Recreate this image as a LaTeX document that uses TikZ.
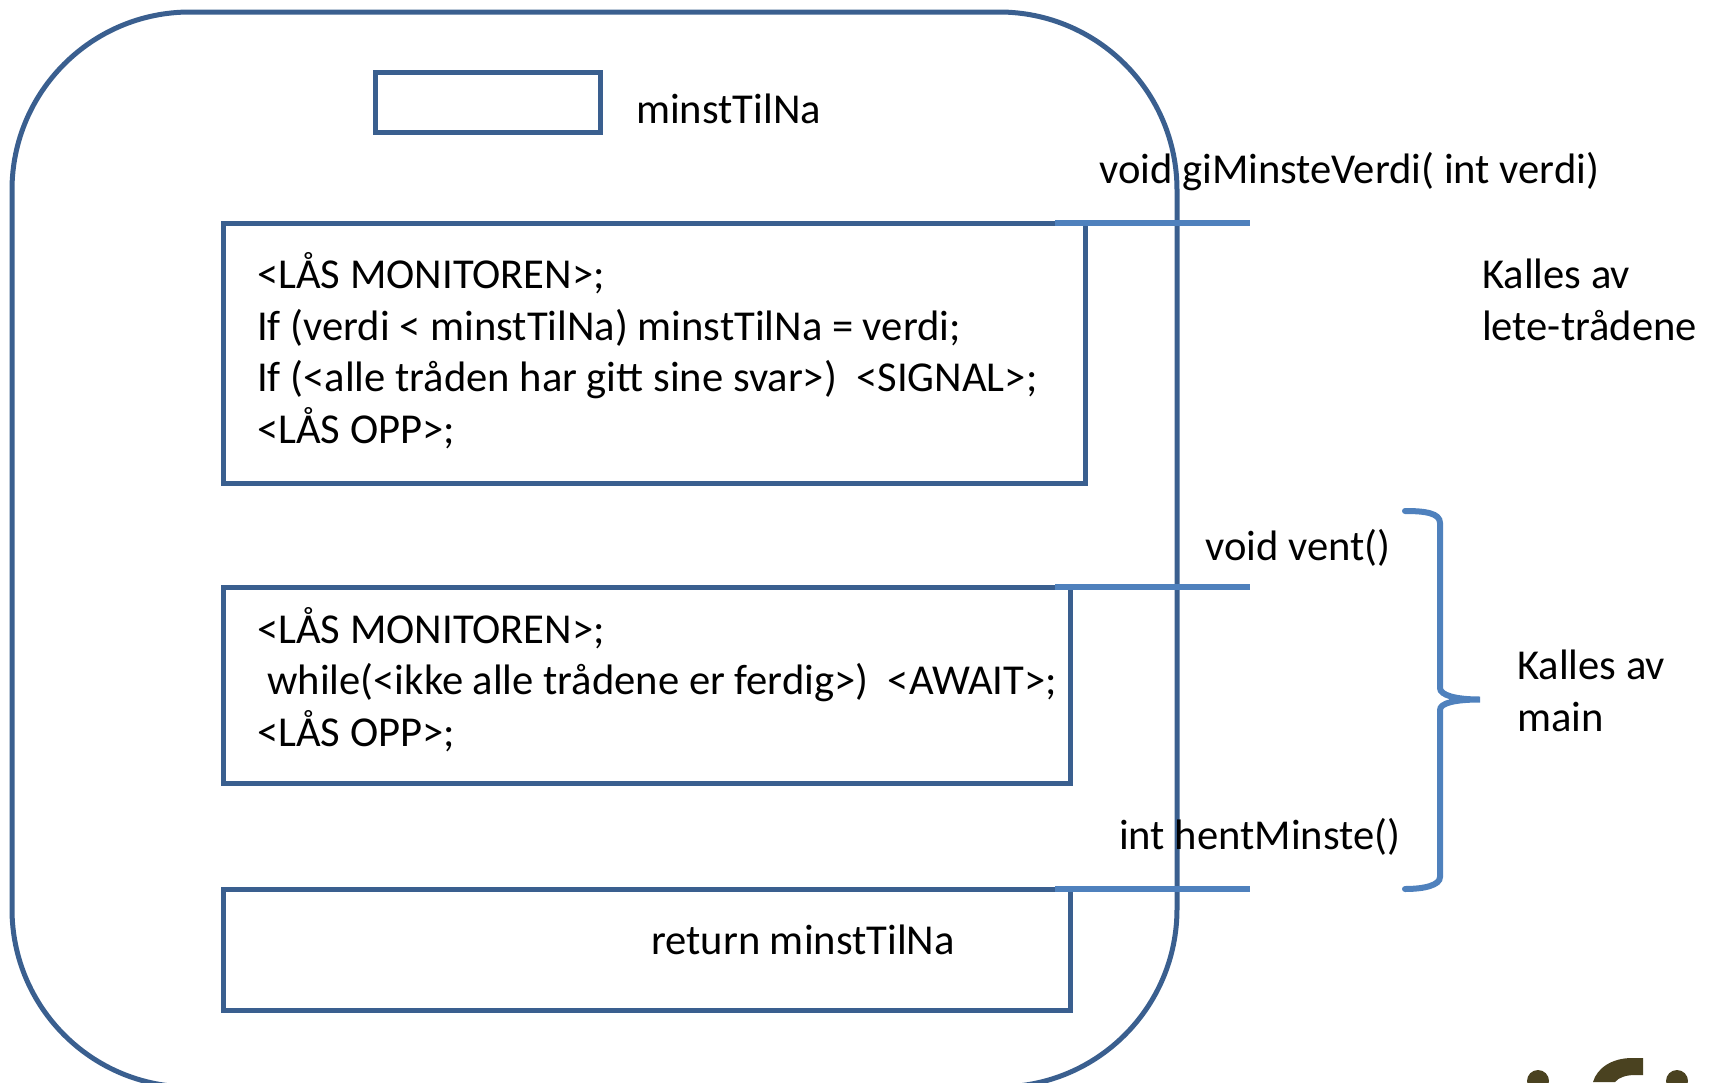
\documentclass[tikz,border=0pt]{standalone}
\usepackage{fontspec}
\setmainfont{Carlito}
\definecolor{boxblue}{HTML}{3A5F8F}
\definecolor{lineblue}{HTML}{4F81BD}
\definecolor{logoolive}{HTML}{4A4220}
\begin{document}
\begin{tikzpicture}[
        x=1pt,y=-1pt,
        frame/.style={draw=boxblue,line width=5pt,rectangle,inner sep=0pt},
        call/.style={draw=lineblue,line width=6pt},
        code/.style={anchor=west,align=left,inner sep=0pt,font=\fontsize{42.6}{51.6}\selectfont},
        label/.style={anchor=base west,inner sep=0pt,font=\fontsize{42.6}{51.6}\selectfont}
      ]
      \useasboundingbox (0,0) rectangle (1714,1082);
      \draw[boxblue,line width=5pt,rounded corners=178pt] (12,12) rectangle (1177,1087);
      % boxes
      \node[frame,minimum width=225pt,minimum height=60pt] (mbox) at (487.5,102.5) {};
      \node[frame,minimum width=862pt,minimum height=260pt] (box1) at (654,353) {};
      \node[frame,minimum width=847pt,minimum height=196pt] (box2) at (646.5,685) {};
      \node[frame,minimum width=847pt,minimum height=121pt] (box3) at (646.5,949.5) {};
      \node[label] (mname) at (636,123) {minstTilNa};
      \node[code] (code1) at (257,350.5) {<LÅS MONITOREN>;\\If (verdi < minstTilNa) minstTilNa = verdi;\\If (<alle tråden har gitt sine svar>)\ \ <SIGNAL>;\\<LÅS OPP>;};
      \node[code] (code2) at (257,679.5) {<LÅS MONITOREN>;\\\hspace*{10pt}while(<ikke alle trådene er ferdig>)\ \ <AWAIT>;\\<LÅS OPP>;};
      \node[label] (code3) at (651,954) {return minstTilNa};
      % method lines
      \coordinate (a1) at (1055,223);
      \coordinate (a2) at (1250,223);
      \coordinate (b1) at (1055,587);
      \coordinate (b2) at (1250,587);
      \coordinate (c1) at (1055,889);
      \coordinate (c2) at (1250,889);
      \draw[call] (a1) -- (a2);
      \draw[call] (b1) -- (b2);
      \draw[call] (c1) -- (c2);
      \node[label] (gi) at (1099,183) {void giMinsteVerdi( int verdi)};
      \node[label] (vent) at (1205,560) {void vent()};
      \node[label] (hent) at (1119,849) {int hentMinste()};
      \node[code] (lete) at (1482,300) {Kalles av\\lete-trådene};
      \node[code] (main) at (1517,691) {Kalles av\\main};
      % brace
      \draw[call,line cap=round] (1405,511) .. controls (1425,511) and (1440,513) .. (1440,523)
        -- (1440,688) .. controls (1440,695) and (1455,699.5) .. (1480,699.5)
        .. controls (1455,699.5) and (1440,703) .. (1440,710)
        -- (1440,877) .. controls (1440,885) and (1425,889) .. (1405,889);
      % logo
      \fill[logoolive] (1538,1081) circle (11pt);
      \fill[logoolive] (1677,1081) circle (11pt);
      \fill[logoolive] (1593,1082) .. controls (1597,1068) and (1612,1058) .. (1632,1058) -- (1643,1058)
        -- (1643,1075) -- (1635,1075) .. controls (1627,1075) and (1619,1077) .. (1615,1082) -- cycle;
    \end{tikzpicture}
\end{document}
